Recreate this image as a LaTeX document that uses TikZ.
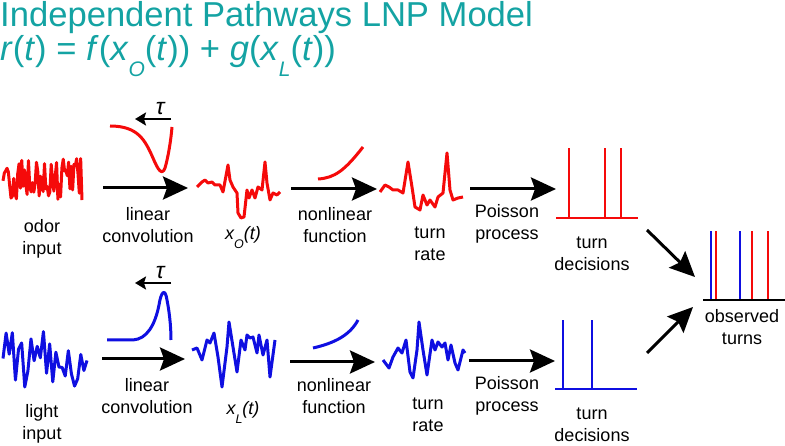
\documentclass[tikz,border=0pt]{standalone}
\usepackage{fontspec}
\setmainfont{Liberation Sans}
\usetikzlibrary{arrows.meta}
\definecolor{titlecol}{RGB}{20,163,163}
\definecolor{odorcol}{RGB}{245,10,10}
\definecolor{lightcol}{RGB}{15,15,225}
\tikzset{
  bigarr/.style={line width=3pt, -{Stealth[length=25pt,width=23pt,inset=4pt]}},
  tauarr/.style={line width=2.5pt, -{Stealth[length=11pt,width=13pt,inset=2pt]}},
  trace/.style={line width=3pt, line join=round},
  spike/.style={line width=2.8pt},
  lab/.style={align=center, font=\fontsize{18}{22}\selectfont, inner sep=0pt},
  taulab/.style={above=3pt, inner sep=0pt, font=\fontsize{23}{23}\selectfont\itshape},
  head/.style={anchor=base west, inner sep=0pt, text=titlecol, font=\fontsize{34.6}{40}\selectfont},
}
\begin{document}
\begin{tikzpicture}[x=1pt,y=-1pt]
\useasboundingbox (0,0) rectangle (785,446);

\node[head] (title) at (0,27) {Independent Pathways LNP Model};
\node[head] (model) at (0,61) {\textit{r}(\textit{t}) = \textit{f}(\textit{x}\raisebox{-0.45em}{\fontsize{21}{21}\selectfont\itshape O}(\textit{t})) + \textit{g}(\textit{x}\raisebox{-0.45em}{\fontsize{21}{21}\selectfont\itshape L}(\textit{t}))};

% odor pathway
\pgfmathsetseed{11}
\draw[trace, odorcol] plot[domain=3:82, samples=60] (\x,{180+23*rand});
\draw[trace, odorcol] (110,126) .. controls (138,126) and (145,140) .. (153,158) .. controls (158,170) and (162,176) .. (165,168) .. controls (168,158) and (171,140) .. (172,127);
\draw[trace, odorcol] (197,187) -- (202,182) -- (205,180) -- (208,183) -- (212,182) -- (215,185) -- (220,185) -- (223,192) -- (228,165) -- (230,180) -- (233,187) -- (237,193) -- (238,213) -- (241,218) -- (244,217) -- (247,190) -- (249,198) -- (252,190) -- (255,198) -- (258,187) -- (262,190) -- (265,162) -- (267,183) -- (270,200) -- (273,193) -- (277,195) -- (280,192);
\draw[trace, odorcol] (318,179) .. controls (335,178) and (345,170) .. (363,147);
\draw[trace, odorcol] (380,192) -- (385,185) -- (389,187) -- (393,190) -- (398,190) -- (403,193) -- (408,162) -- (412,187) -- (415,207) -- (420,210) -- (423,195) -- (427,205) -- (430,200) -- (435,207) -- (438,197) -- (443,193) -- (447,153) -- (450,190) -- (453,200) -- (458,198) -- (463,197);
\draw[spike, odorcol] (556,218) -- (638,218);
\foreach \s in {569,605,621}
  \draw[spike, odorcol] (\s,218) -- (\s,148);

\coordinate (otau1) at (171,119);
\coordinate (otau2) at (135,119);
\draw[tauarr] (otau1) -- (otau2) node[pos=0.3, taulab] (otau) {τ};
\coordinate (oc1) at (103,188);
\coordinate (oc2) at (188,188);
\draw[bigarr] (oc1) -- (oc2);
\coordinate (on1) at (291,189);
\coordinate (on2) at (377,189);
\draw[bigarr] (on1) -- (on2);
\coordinate (op1) at (470,189);
\coordinate (op2) at (556,189);
\draw[bigarr] (op1) -- (op2);

\node[lab] (odorin) at (42,239) {odor\\input};
\node[lab] (oconv) at (148,225) {linear\\convolution};
\node[lab] (xo) at (243,238) {\itshape x\raisebox{-0.5em}{\fontsize{12.5}{12}\selectfont O}(t)};
\node[lab] (ononlin) at (335,225) {nonlinear\\function};
\node[lab] (orate) at (430,244) {turn\\rate};
\node[lab] (opois) at (507,224) {Poisson\\process};
\node[lab] (odec) at (592,254) {turn\\decisions};

% light pathway
\pgfmathsetseed{5}
\draw[trace, lightcol] plot[domain=3:87, samples=28] (\x,{360+30*rand});
\draw[trace, lightcol] (107,340) -- (133,340) .. controls (147,339) and (155,325) .. (159,305) .. controls (161,292) and (165,287) .. (167,300) .. controls (169,310) and (171,325) .. (171,340);
\draw[trace, lightcol] (192,350) -- (197,348) -- (202,360) -- (207,340) -- (210,343) -- (214,333) -- (218,357) -- (222,387) -- (227,347) -- (229,322) -- (233,347) -- (237,372) -- (241,340) -- (245,350) -- (247,335) -- (250,338) -- (253,337) -- (257,353) -- (259,335) -- (263,355) -- (267,340) -- (270,377) -- (275,340);
\draw[trace, lightcol] (313,348) .. controls (335,343) and (350,335) .. (358,320);
\draw[trace, lightcol] (383,360) -- (389,368) -- (393,357) -- (398,348) -- (402,353) -- (406,340) -- (410,372) -- (413,378) -- (417,350) -- (419,322) -- (423,350) -- (427,375) -- (432,340) -- (435,350) -- (438,342) -- (442,347) -- (445,343) -- (448,360) -- (451,345) -- (455,363) -- (458,370) -- (463,350) -- (465,353);
\draw[spike, lightcol] (555,389) -- (637,389);
\foreach \s in {563,592}
  \draw[spike, lightcol] (\s,389) -- (\s,320);

\coordinate (ltau1) at (171,283);
\coordinate (ltau2) at (135,283);
\draw[tauarr] (ltau1) -- (ltau2) node[pos=0.3, taulab] (ltau) {τ};
\coordinate (lc1) at (102,359);
\coordinate (lc2) at (185,359);
\draw[bigarr] (lc1) -- (lc2);
\coordinate (ln1) at (290,362);
\coordinate (ln2) at (375,362);
\draw[bigarr] (ln1) -- (ln2);
\coordinate (lp1) at (469,361);
\coordinate (lp2) at (555,361);
\draw[bigarr] (lp1) -- (lp2);

\node[lab] (lightin) at (42,424) {light\\input};
\node[lab] (lconv) at (147,396) {linear\\convolution};
\node[lab] (xl) at (243,412) {\itshape x\raisebox{-0.5em}{\fontsize{12.5}{12}\selectfont L}(t)};
\node[lab] (lnonlin) at (334,396) {nonlinear\\function};
\node[lab] (lrate) at (428,415) {turn\\rate};
\node[lab] (lpois) at (507,396) {Poisson\\process};
\node[lab] (ldec) at (592,425) {turn\\decisions};

% observed turns
\draw[spike] (703,300) -- (785,300);
\foreach \s/\c in {711/lightcol,716/odorcol,740/lightcol,752/odorcol,768/odorcol}
  \draw[spike, \c] (\s,298.6) -- (\s,231);
\node[lab] (obs) at (742,327) {observed\\turns};
\coordinate (od1) at (647,230);
\coordinate (od2) at (695,277);
\draw[bigarr] (od1) -- (od2);
\coordinate (ld1) at (647,353);
\coordinate (ld2) at (693,307);
\draw[bigarr] (ld1) -- (ld2);
\end{tikzpicture}
\end{document}
